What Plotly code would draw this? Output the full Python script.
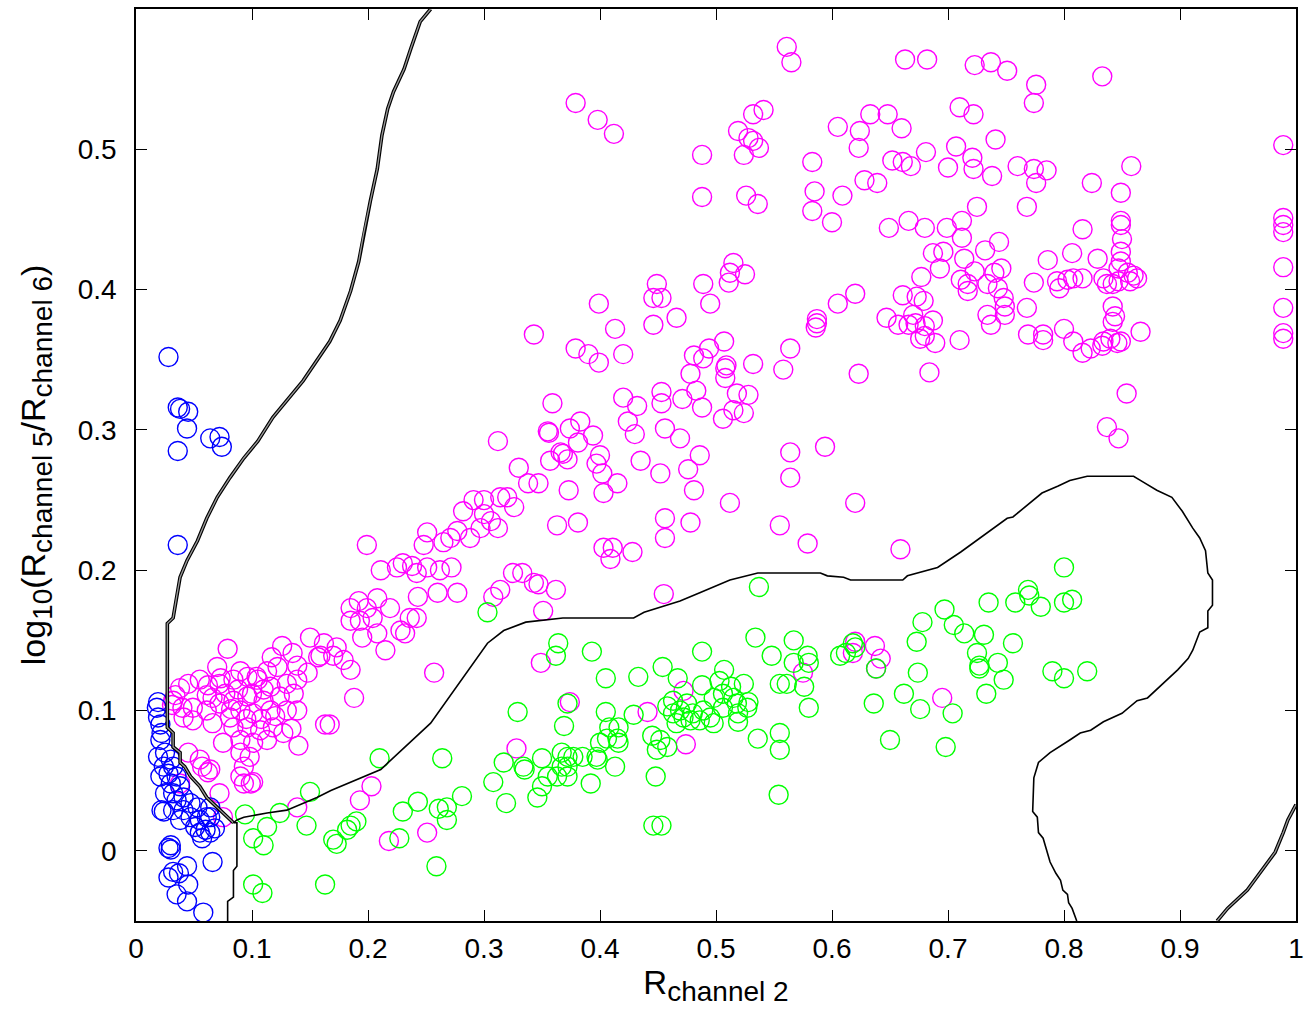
import plotly.graph_objects as go

# ---------------- data ----------------
blue_x = [0.028, 0.036, 0.038, 0.045, 0.044, 0.036, 0.064, 0.072, 0.074, 0.036,
          0.019, 0.018, 0.019, 0.021, 0.022, 0.021, 0.019, 0.025, 0.030, 0.024, 0.032, 0.028, 0.035, 0.021,
          0.030, 0.038, 0.032, 0.025, 0.041, 0.035, 0.047, 0.024, 0.041, 0.032, 0.053, 0.064, 0.047, 0.038,
          0.055, 0.064, 0.051, 0.060, 0.068, 0.055, 0.064, 0.030,
          0.028, 0.030, 0.066, 0.032, 0.037, 0.044, 0.028, 0.035, 0.045, 0.044, 0.058, 0.022, 0.061, 0.057]
blue_y = [0.352, 0.316, 0.315, 0.313, 0.301, 0.285, 0.294, 0.295, 0.288, 0.218,
          0.106, 0.102, 0.095, 0.090, 0.084, 0.079, 0.067, 0.070, 0.065, 0.060, 0.060, 0.055, 0.053, 0.053,
          0.048, 0.046, 0.041, 0.041, 0.038, 0.036, 0.034, 0.028, 0.029, 0.029, 0.031, 0.031, 0.024, 0.022,
          0.022, 0.024, 0.017, 0.015, 0.016, 0.013, 0.013, 0.004,
          0.002, 0.001, -0.008, -0.015, -0.016, -0.011, -0.019, -0.031, -0.024, -0.036, -0.044, 0.029, 0.024, 0.009]

magenta_pts = [
    # dense cluster lower left
    (0.079, 0.144), (0.126, 0.146), (0.150, 0.152), (0.159, 0.139), (0.135, 0.141), (0.117, 0.138), (0.139, 0.132),
    (0.122, 0.131), (0.148, 0.127), (0.170, 0.139), (0.070, 0.131), (0.055, 0.122), (0.045, 0.119), (0.034, 0.111),
    (0.031, 0.104), (0.040, 0.102), (0.041, 0.095), (0.049, 0.102), (0.061, 0.111), (0.072, 0.119), (0.084, 0.122),
    (0.096, 0.124), (0.105, 0.122), (0.116, 0.117), (0.130, 0.119), (0.136, 0.112), (0.124, 0.110), (0.110, 0.107),
    (0.096, 0.110), (0.084, 0.107), (0.072, 0.105), (0.061, 0.100), (0.049, 0.093), (0.066, 0.091), (0.081, 0.095),
    (0.090, 0.100), (0.101, 0.098), (0.116, 0.100), (0.130, 0.100), (0.139, 0.100), (0.084, 0.088), (0.096, 0.088),
    (0.107, 0.086), (0.118, 0.088), (0.127, 0.084), (0.134, 0.087), (0.140, 0.075), (0.075, 0.077), (0.090, 0.079),
    (0.101, 0.077), (0.113, 0.079), (0.090, 0.070), (0.098, 0.067), (0.093, 0.060), (0.090, 0.053), (0.101, 0.049),
    (0.093, 0.048), (0.064, 0.058), (0.055, 0.065), (0.045, 0.070), (0.072, 0.041), (0.075, 0.024), (0.163, 0.090),
    (0.139, 0.031), (0.038, 0.048),
    (0.157, 0.138), (0.038, 0.116), (0.032, 0.107), (0.073, 0.123), (0.104, 0.124), (0.139, 0.122), (0.162, 0.148),
    (0.057, 0.060), (0.062, 0.056), (0.099, 0.048), (0.110, 0.115), (0.100, 0.112), (0.088, 0.115), (0.077, 0.112),
    (0.066, 0.109), (0.120, 0.096), (0.108, 0.094), (0.095, 0.094), (0.082, 0.101), (0.113, 0.128), (0.090, 0.128),
    (0.062, 0.118),
    # diagonal band
    (0.199, 0.218), (0.251, 0.227), (0.248, 0.218), (0.211, 0.200), (0.225, 0.202), (0.230, 0.205), (0.238, 0.203),
    (0.242, 0.198), (0.251, 0.202), (0.262, 0.200), (0.272, 0.202), (0.260, 0.184), (0.277, 0.184), (0.243, 0.181),
    (0.192, 0.178), (0.185, 0.173), (0.199, 0.173), (0.208, 0.180), (0.219, 0.173), (0.204, 0.166), (0.193, 0.164),
    (0.185, 0.164), (0.236, 0.166), (0.242, 0.166), (0.228, 0.157), (0.232, 0.155), (0.195, 0.152), (0.208, 0.155),
    (0.215, 0.143), (0.173, 0.145), (0.179, 0.136), (0.185, 0.129), (0.167, 0.090), (0.188, 0.109), (0.257, 0.127),
    (0.282, 0.242), (0.291, 0.250), (0.300, 0.250), (0.300, 0.240), (0.306, 0.235), (0.297, 0.230), (0.312, 0.230),
    (0.288, 0.223), (0.277, 0.228), (0.271, 0.223), (0.265, 0.220), (0.314, 0.252), (0.320, 0.252), (0.326, 0.245),
    (0.312, 0.292), (0.330, 0.273), (0.338, 0.262), (0.347, 0.262), (0.325, 0.198), (0.333, 0.198), (0.343, 0.191),
    (0.347, 0.190), (0.362, 0.186), (0.351, 0.171), (0.314, 0.186), (0.308, 0.181),
    (0.356, 0.298), (0.368, 0.283), (0.374, 0.301), (0.383, 0.306), (0.394, 0.296), (0.381, 0.291), (0.400, 0.282),
    (0.397, 0.276), (0.402, 0.269), (0.403, 0.255), (0.373, 0.257), (0.415, 0.262), (0.435, 0.278), (0.452, 0.269),
    (0.363, 0.232), (0.381, 0.234), (0.403, 0.216), (0.411, 0.216), (0.409, 0.208), (0.428, 0.213), (0.456, 0.237),
    (0.456, 0.223), (0.455, 0.183),
    (0.349, 0.134), (0.374, 0.106), (0.328, 0.073), (0.441, 0.099), (0.203, 0.046), (0.193, 0.036), (0.218, 0.007),
    (0.251, 0.013),
    # middle
    (0.379, 0.533), (0.398, 0.521), (0.412, 0.511), (0.488, 0.496), (0.488, 0.466), (0.399, 0.390), (0.343, 0.368),
    (0.379, 0.358), (0.390, 0.354), (0.399, 0.348), (0.413, 0.372), (0.420, 0.354), (0.449, 0.404), (0.446, 0.394),
    (0.453, 0.394), (0.446, 0.375), (0.466, 0.380), (0.489, 0.404), (0.495, 0.390), (0.512, 0.412), (0.515, 0.419),
    (0.511, 0.405), (0.507, 0.363), (0.481, 0.353), (0.489, 0.351), (0.494, 0.358), (0.478, 0.340), (0.508, 0.344),
    (0.508, 0.337), (0.483, 0.328), (0.488, 0.316), (0.518, 0.326), (0.515, 0.314), (0.506, 0.308), (0.359, 0.319),
    (0.420, 0.323), (0.432, 0.317), (0.453, 0.327), (0.453, 0.319), (0.471, 0.322), (0.424, 0.306), (0.430, 0.297),
    (0.456, 0.301), (0.469, 0.294), (0.355, 0.299), (0.366, 0.284), (0.357, 0.278), (0.372, 0.279), (0.476, 0.272),
    (0.486, 0.282), (0.481, 0.257), (0.512, 0.248), (0.478, 0.234),
    # upper right
    (0.561, 0.573), (0.565, 0.562), (0.663, 0.564), (0.519, 0.513), (0.532, 0.525), (0.541, 0.528), (0.528, 0.508),
    (0.532, 0.506), (0.537, 0.501), (0.524, 0.496), (0.526, 0.467), (0.536, 0.461), (0.583, 0.491), (0.585, 0.470),
    (0.583, 0.456), (0.600, 0.448), (0.609, 0.467), (0.605, 0.516), (0.624, 0.513), (0.633, 0.525), (0.648, 0.525),
    (0.660, 0.515), (0.623, 0.501), (0.652, 0.492), (0.661, 0.491), (0.668, 0.488), (0.628, 0.478), (0.639, 0.476),
    (0.649, 0.444), (0.666, 0.449),
    (0.525, 0.411), (0.509, 0.346), (0.532, 0.347), (0.564, 0.358), (0.558, 0.343), (0.623, 0.340), (0.605, 0.390),
    (0.620, 0.397), (0.587, 0.379), (0.587, 0.376), (0.586, 0.373), (0.647, 0.380), (0.661, 0.396), (0.657, 0.375),
    (0.666, 0.375), (0.673, 0.395), (0.676, 0.365),
    (0.682, 0.564), (0.723, 0.560), (0.737, 0.562), (0.751, 0.556), (0.776, 0.546), (0.774, 0.533), (0.833, 0.552),
    (0.710, 0.530), (0.722, 0.525), (0.741, 0.507), (0.707, 0.502), (0.681, 0.498), (0.721, 0.494), (0.700, 0.487),
    (0.722, 0.486), (0.738, 0.481), (0.760, 0.488), (0.774, 0.486), (0.785, 0.485), (0.776, 0.476), (0.824, 0.476),
    (0.858, 0.488), (0.849, 0.469), (0.725, 0.459), (0.768, 0.459), (0.989, 0.503),
    (0.680, 0.444), (0.699, 0.444), (0.712, 0.449), (0.712, 0.437), (0.687, 0.426), (0.696, 0.427), (0.714, 0.422),
    (0.732, 0.428), (0.744, 0.434), (0.693, 0.415), (0.723, 0.413), (0.740, 0.412), (0.746, 0.415), (0.677, 0.409),
    (0.711, 0.407), (0.717, 0.404), (0.717, 0.399), (0.734, 0.404), (0.743, 0.401), (0.748, 0.394), (0.749, 0.388),
    (0.749, 0.382), (0.734, 0.382), (0.737, 0.375), (0.679, 0.392), (0.670, 0.382), (0.672, 0.376), (0.680, 0.374),
    (0.687, 0.378), (0.680, 0.367), (0.689, 0.362), (0.710, 0.364), (0.768, 0.387), (0.769, 0.368), (0.782, 0.368),
    (0.782, 0.364), (0.774, 0.405), (0.786, 0.421), (0.794, 0.406), (0.796, 0.401), (0.803, 0.407), (0.807, 0.426),
    (0.808, 0.408), (0.816, 0.408), (0.816, 0.443), (0.800, 0.372), (0.808, 0.363), (0.816, 0.355), (0.823, 0.358),
    (0.829, 0.422), (0.834, 0.408), (0.837, 0.404), (0.842, 0.404), (0.842, 0.388), (0.844, 0.381), (0.842, 0.377),
    (0.834, 0.363), (0.833, 0.360), (0.840, 0.365), (0.846, 0.362), (0.849, 0.363), (0.866, 0.370), (0.849, 0.449),
    (0.849, 0.446), (0.850, 0.436), (0.849, 0.427), (0.849, 0.420), (0.847, 0.415), (0.855, 0.412), (0.860, 0.410),
    (0.857, 0.406), (0.863, 0.408), (0.847, 0.406),
    (0.989, 0.451), (0.989, 0.446), (0.989, 0.441), (0.989, 0.416), (0.989, 0.387), (0.989, 0.369), (0.989, 0.365),
    (0.684, 0.341),
    (0.528, 0.325), (0.524, 0.312), (0.564, 0.284), (0.594, 0.288), (0.564, 0.266), (0.620, 0.248), (0.555, 0.232),
    (0.579, 0.219), (0.659, 0.215), (0.854, 0.326), (0.837, 0.302), (0.847, 0.294),
    # among the green class
    (0.575, 0.127), (0.620, 0.149), (0.618, 0.141), (0.637, 0.146), (0.642, 0.137), (0.638, 0.130), (0.695, 0.109),
    (0.474, 0.076), (0.472, 0.114),
]
magenta_x = [p[0] for p in magenta_pts]
magenta_y = [p[1] for p in magenta_pts]

green_pts = [
    (0.364, 0.148), (0.362, 0.139), (0.393, 0.142), (0.488, 0.142), (0.534, 0.152), (0.548, 0.139), (0.555, 0.119),
    (0.454, 0.131), (0.405, 0.123), (0.433, 0.124), (0.467, 0.123), (0.507, 0.129), (0.488, 0.118), (0.503, 0.121),
    (0.513, 0.117), (0.524, 0.119), (0.528, 0.106), (0.519, 0.098), (0.519, 0.092), (0.372, 0.105), (0.329, 0.099),
    (0.369, 0.089), (0.405, 0.099), (0.429, 0.097), (0.408, 0.088), (0.416, 0.088), (0.406, 0.080), (0.415, 0.080),
    (0.416, 0.077), (0.400, 0.077), (0.445, 0.082), (0.452, 0.079), (0.449, 0.072), (0.458, 0.074), (0.463, 0.098),
    (0.469, 0.100), (0.472, 0.095), (0.478, 0.093), (0.466, 0.091), (0.480, 0.098), (0.489, 0.100), (0.495, 0.095),
    (0.498, 0.091), (0.486, 0.093), (0.463, 0.107), (0.475, 0.105), (0.458, 0.103), (0.498, 0.109), (0.506, 0.112),
    (0.515, 0.109), (0.518, 0.105), (0.527, 0.102), (0.506, 0.102), (0.536, 0.080), (0.555, 0.084), (0.555, 0.072),
    (0.448, 0.053), (0.554, 0.040), (0.446, 0.018), (0.453, 0.018),
    (0.317, 0.063), (0.334, 0.060), (0.335, 0.058), (0.350, 0.066), (0.367, 0.070), (0.372, 0.067), (0.377, 0.067),
    (0.385, 0.067), (0.397, 0.067), (0.367, 0.060), (0.372, 0.060), (0.355, 0.053), (0.363, 0.053), (0.372, 0.053),
    (0.350, 0.046), (0.413, 0.060), (0.398, 0.065), (0.308, 0.049), (0.346, 0.038), (0.392, 0.048), (0.319, 0.034),
    (0.264, 0.066), (0.281, 0.039), (0.268, 0.031), (0.261, 0.030), (0.268, 0.022), (0.243, 0.035), (0.230, 0.028),
    (0.537, 0.188), (0.567, 0.150), (0.567, 0.134), (0.579, 0.139), (0.580, 0.134), (0.561, 0.119), (0.576, 0.117),
    (0.580, 0.102),
    (0.607, 0.139), (0.612, 0.141), (0.618, 0.148), (0.620, 0.145), (0.638, 0.130), (0.636, 0.105), (0.650, 0.079),
    (0.662, 0.112), (0.676, 0.101), (0.674, 0.127), (0.673, 0.149), (0.678, 0.163), (0.697, 0.172), (0.705, 0.161),
    (0.714, 0.155), (0.725, 0.141), (0.727, 0.132), (0.727, 0.130), (0.731, 0.154), (0.735, 0.177), (0.743, 0.134),
    (0.748, 0.122), (0.733, 0.112), (0.704, 0.098), (0.698, 0.074), (0.756, 0.148), (0.758, 0.177), (0.769, 0.186),
    (0.770, 0.182), (0.780, 0.174), (0.800, 0.202), (0.800, 0.177), (0.807, 0.179), (0.790, 0.128), (0.800, 0.123),
    (0.820, 0.128),
    (0.303, 0.170), (0.210, 0.066),
    (0.094, 0.026), (0.113, 0.017), (0.101, 0.009), (0.110, 0.004), (0.124, 0.027), (0.147, 0.018), (0.150, 0.042),
    (0.101, -0.024), (0.109, -0.030), (0.163, -0.024), (0.170, 0.008), (0.173, 0.005), (0.185, 0.018), (0.182, 0.015),
    (0.227, 0.009), (0.259, -0.011), (0.190, 0.021),
]
green_x = [p[0] for p in green_pts]
green_y = [p[1] for p in green_pts]

# decision boundaries (data coordinates)
bnd_a_x = [0.254, 0.245, 0.237, 0.231, 0.222, 0.217, 0.212, 0.208, 0.202, 0.196, 0.192, 0.185, 0.176, 0.167,
           0.144, 0.118, 0.105, 0.093, 0.081, 0.070, 0.061, 0.053, 0.044, 0.038, 0.035, 0.032, 0.027, 0.027,
           0.032, 0.032, 0.038, 0.038, 0.042, 0.047, 0.055, 0.061, 0.070, 0.079, 0.084]
bnd_a_y = [0.600, 0.591, 0.572, 0.557, 0.541, 0.529, 0.510, 0.486, 0.463, 0.439, 0.420, 0.399, 0.378, 0.363,
           0.335, 0.309, 0.292, 0.280, 0.266, 0.252, 0.237, 0.221, 0.207, 0.195, 0.181, 0.166, 0.162, 0.088,
           0.084, 0.074, 0.070, 0.063, 0.060, 0.053, 0.046, 0.038, 0.031, 0.024, 0.020]

bnd_d_x = [0.084, 0.087, 0.087, 0.084, 0.084, 0.079, 0.079]
bnd_d_y = [0.020, 0.020, -0.011, -0.014, -0.033, -0.036, -0.050]

bnd_b_x = [0.084, 0.087, 0.093, 0.113, 0.130, 0.144, 0.156, 0.168, 0.211, 0.254, 0.303, 0.317, 0.336, 0.368,
           0.429, 0.438, 0.469, 0.486, 0.512, 0.536, 0.590, 0.596, 0.610, 0.616, 0.661, 0.665, 0.674, 0.691,
           0.711, 0.751, 0.756, 0.781, 0.795, 0.805, 0.820, 0.860, 0.868, 0.880, 0.893, 0.902, 0.911, 0.917,
           0.922, 0.924, 0.928, 0.928, 0.924, 0.924, 0.917, 0.911, 0.907, 0.898, 0.872, 0.863, 0.850, 0.834,
           0.823, 0.814, 0.805, 0.788, 0.778, 0.774, 0.773, 0.777, 0.778, 0.782, 0.788, 0.793, 0.797, 0.799,
           0.803, 0.804, 0.807, 0.811]
bnd_b_y = [0.020, 0.022, 0.024, 0.027, 0.029, 0.034, 0.038, 0.043, 0.058, 0.091, 0.148, 0.157, 0.163, 0.166,
           0.166, 0.170, 0.178, 0.184, 0.193, 0.198, 0.198, 0.196, 0.195, 0.193, 0.193, 0.196, 0.198, 0.202,
           0.213, 0.237, 0.238, 0.255, 0.260, 0.264, 0.267, 0.267, 0.263, 0.257, 0.252, 0.242, 0.230, 0.223,
           0.214, 0.198, 0.193, 0.175, 0.171, 0.159, 0.156, 0.143, 0.137, 0.129, 0.109, 0.107, 0.098, 0.092,
           0.086, 0.084, 0.079, 0.070, 0.063, 0.052, 0.028, 0.024, 0.013, 0.009, -0.008, -0.016, -0.021, -0.028,
           -0.031, -0.037, -0.041, -0.050]

bnd_c_x = [0.932, 0.941, 0.958, 0.972, 0.982, 0.989, 0.993, 1.000]
bnd_c_y = [-0.050, -0.041, -0.028, -0.012, -0.001, 0.013, 0.022, 0.033]

x_ticks = [0, 0.1, 0.2, 0.3, 0.4, 0.5, 0.6, 0.7, 0.8, 0.9, 1]
x_tick_text = ["0", "0.1", "0.2", "0.3", "0.4", "0.5", "0.6", "0.7", "0.8", "0.9", "1"]
y_ticks = [0, 0.1, 0.2, 0.3, 0.4, 0.5]
y_tick_text = ["0", "0.1", "0.2", "0.3", "0.4", "0.5"]

# ---------------- figure ----------------
FONT = "Liberation Sans, Arial, Helvetica, sans-serif"
fig = go.Figure()


def circles(x, y, color):
    return go.Scatter(x=x, y=y, mode="markers", showlegend=False, hoverinfo="skip",
                      marker=dict(symbol="circle-open", size=19, color=color,
                                  line=dict(width=1.4, color=color)))


fig.add_trace(circles(magenta_x, magenta_y, "#ff00ff"))
fig.add_trace(circles(green_x, green_y, "#00ff00"))
fig.add_trace(circles(blue_x, blue_y, "#0000ff"))


def line(x, y, width, color):
    return go.Scatter(x=x, y=y, mode="lines", showlegend=False, hoverinfo="skip",
                      line=dict(color=color, width=width))


# double-drawn boundaries (black edges with grey core)
for bx, by in [(bnd_a_x, bnd_a_y), (bnd_c_x, bnd_c_y)]:
    fig.add_trace(line(bx, by, 3.6, "black"))
    fig.add_trace(line(bx, by, 1.3, "#9a9a9a"))
# single boundaries
for bx, by in [(bnd_b_x, bnd_b_y), (bnd_d_x, bnd_d_y)]:
    fig.add_trace(line(bx, by, 1.6, "black"))

axis_common = dict(showgrid=False, zeroline=False, showline=True, linecolor="black", linewidth=1.5,
                   mirror="allticks", ticks="inside", ticklen=11, tickwidth=1.3, tickcolor="black",
                   tickfont=dict(family=FONT, size=28, color="black"))

SUB = "<sub><span style='font-size:28px'>{}</span></sub>"

fig.update_layout(
    width=1314, height=1021,
    margin=dict(l=136, r=18, t=7, b=100),
    paper_bgcolor="white", plot_bgcolor="white",
    font=dict(family=FONT, color="black"),
    xaxis=dict(range=[0, 1], tickvals=x_ticks, ticktext=x_tick_text,
               title=dict(text="R" + SUB.format("channel 2"), font=dict(family=FONT, size=33), standoff=4),
               ticklabelstandoff=2, **axis_common),
    yaxis=dict(range=[-0.05, 0.6], tickvals=y_ticks, ticktext=y_tick_text,
               title=dict(text="log" + SUB.format("10") + "(R" + SUB.format("channel 5") + "/R"
                          + SUB.format("channel 6") + ")",
                          font=dict(family=FONT, size=34), standoff=22),
               ticklabelstandoff=12, **axis_common),
)

fig.write_html("out.html", config={"displayModeBar": False},
               post_script="document.body.style.margin='0';")
